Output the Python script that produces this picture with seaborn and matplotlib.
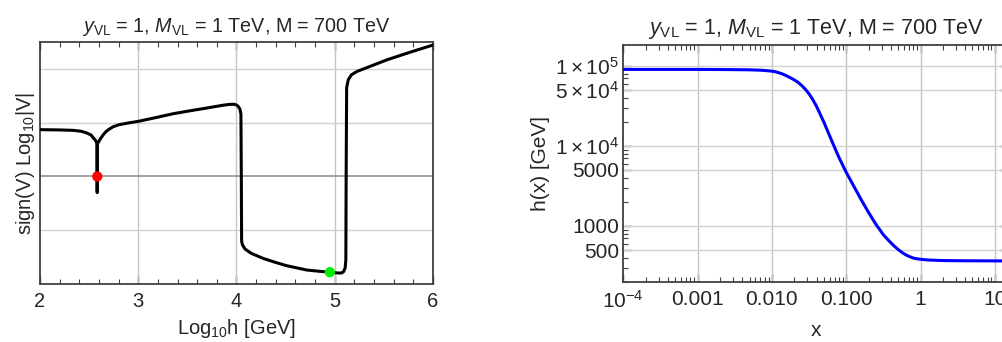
import numpy as np
import pandas as pd
import matplotlib
matplotlib.use("Agg")
import matplotlib.pyplot as plt
from matplotlib.ticker import FixedLocator, NullFormatter, LogLocator
import seaborn as sns

# -----------------------------
# DATA
# -----------------------------

# left panel: sign(V) Log10|V| versus Log10 h
log_h = [2.0, 2.2, 2.34, 2.42, 2.475, 2.52, 2.543, 2.565, 2.577, 2.581,
         2.582, 2.583, 2.586, 2.592, 2.600, 2.615, 2.630, 2.645, 2.67, 2.70,
         2.746, 2.80, 2.90, 3.0, 3.18, 3.357, 3.53, 3.697, 3.866, 3.93,
         3.968, 4.0, 4.018, 4.035, 4.045, 4.049, 4.052, 4.06, 4.087, 4.15,
         4.273, 4.4, 4.511, 4.715, 4.85, 4.95, 5.036, 5.07, 5.09, 5.106,
         5.113, 5.116, 5.121, 5.138, 5.17, 5.223, 5.35, 5.529, 5.75, 6.0]
sign_log_v = [8.70, 8.65, 8.57, 8.40, 8.09, 7.70, 7.17, 6.70, 6.24, 5.60,
              -3.0, 5.60, 6.10, 6.30, 6.55, 7.00, 7.40, 7.78, 8.30, 8.75,
              9.25, 9.60, 9.95, 10.24, 10.95, 11.67, 12.22, 12.72, 13.25, 13.40,
              13.42, 13.30, 13.02, 12.50, 11.60, 0.0, -12.0, -12.70, -13.50, -14.30,
              -15.25, -16.00, -16.60, -17.40, -17.65, -17.80, -17.96, -17.95, -17.70, -17.00,
              -15.50, 0.0, 16.50, 18.00, 18.90, 19.50, 20.40, 21.67, 23.00, 24.44]

# marked points
red_pt = (2.583, 0.0)
green_pt = (4.95, -17.8)

# right panel: h(x) [GeV] versus x  (read as log10 values)
log_x = [-4.0, -3.0, -2.6, -2.3, -2.15, -2.05, -2.0, -1.95, -1.9, -1.85,
         -1.8, -1.75, -1.7, -1.65, -1.6, -1.55, -1.5, -1.45, -1.4, -1.3,
         -1.2, -1.1, -1.0, -0.9, -0.8, -0.7, -0.6, -0.5, -0.4, -0.35,
         -0.3, -0.25, -0.2, -0.15, -0.1, -0.05, 0.0, 0.1, 0.3, 0.6, 1.2]
log_hx = [4.955, 4.955, 4.953, 4.950, 4.945, 4.938, 4.933, 4.925, 4.912, 4.895,
          4.874, 4.850, 4.825, 4.795, 4.755, 4.707, 4.650, 4.578, 4.495, 4.295,
          4.075, 3.860, 3.670, 3.500, 3.330, 3.170, 3.020, 2.890, 2.790, 2.745,
          2.705, 2.670, 2.640, 2.618, 2.600, 2.590, 2.584, 2.575, 2.568, 2.565, 2.563]

y_ticks = [500, 1000, 5000, 1e4, 5e4, 1e5]
y_tick_labels = ["500", "1000", "5000", r"$1\times10^{4}$", r"$5\times10^{4}$",
                 r"$1\times10^{5}$"]
x_ticks = [1e-4, 1e-3, 1e-2, 1e-1, 1, 10]
x_tick_labels = [r"$10^{-4}$", "0.001", "0.010", "0.100", "1", "10"]

title = r"$\mathit{y}_{\mathrm{VL}}$ = 1, $\mathit{M}_{\mathrm{VL}}$ = 1 TeV, M = 700 TeV"

# -----------------------------
# STYLE
# -----------------------------
sns.set_style("white")
plt.rcParams['font.family'] = ['Liberation Sans', 'DejaVu Sans']
plt.rcParams['mathtext.fontset'] = 'custom'
plt.rcParams['mathtext.rm'] = 'Liberation Sans'
plt.rcParams['mathtext.it'] = 'Liberation Sans:italic'
plt.rcParams['mathtext.bf'] = 'Liberation Sans:bold'

frame_col = '#404040'
grid_col = '#d2d2d2'

fig = plt.figure(figsize=(10.03, 3.42), dpi=100)
ax1 = fig.add_axes([40 / 1003, 58 / 342, 393 / 1003, 242 / 342])
ax2 = fig.add_axes([623.3 / 1003, 60 / 342, 384.6 / 1003, 237 / 342])

# -----------------------------
# LEFT PANEL
# -----------------------------
left = pd.DataFrame({'logh': log_h, 'v': sign_log_v})
sns.lineplot(data=left, x='logh', y='v', sort=False, estimator=None,
             color='black', linewidth=2.2, ax=ax1, zorder=3)
sns.scatterplot(x=[red_pt[0]], y=[red_pt[1]], color='#ff0000', s=55,
                edgecolor='none', ax=ax1, zorder=4)
sns.scatterplot(x=[green_pt[0]], y=[green_pt[1]], color='#00ee00', s=55,
                edgecolor='none', ax=ax1, zorder=4)

ax1.set_xlim(2, 6)
ax1.set_ylim(-20, 25)
ax1.set_xticks([2, 3, 4, 5, 6])
ax1.xaxis.set_minor_locator(FixedLocator(np.arange(2, 6.01, 0.2)))
ax1.set_yticks([-10, 0, 10, 20])
ax1.set_yticklabels([])
for xv in [3, 4, 5]:
    ax1.axvline(xv, color='#c4c4c4', lw=1.0, zorder=1)
for yv in [-10, 10, 20]:
    ax1.axhline(yv, color=grid_col, lw=1.0, zorder=1)
ax1.axhline(0, color='#8a8a8a', lw=1.1, zorder=1)
ax1.tick_params(axis='x', which='both', direction='in', top=True, bottom=True,
                color=frame_col, labelsize=14.5, pad=6)
ax1.tick_params(axis='x', which='major', length=6, width=1)
ax1.tick_params(axis='x', which='minor', length=3.5, width=0.8)
ax1.tick_params(axis='y', which='both', length=0)
ax1.set_xlabel(r"Log$_{10}$h [GeV]", fontsize=14.5, labelpad=4)
ax1.set_ylabel(r"sign(V) Log$_{10}$|V|", fontsize=14.5, labelpad=-1)
ax1.set_title(title, fontsize=14.2, pad=7)

# -----------------------------
# RIGHT PANEL
# -----------------------------
right = pd.DataFrame({'x': np.power(10.0, log_x), 'h': np.power(10.0, log_hx)})
sns.lineplot(data=right, x='x', y='h', sort=False, estimator=None,
             color='#0000ff', linewidth=2.2, ax=ax2, zorder=3)
ax2.set_xscale('log')
ax2.set_yscale('log')
ax2.set_xlim(1e-4, 10 ** 1.176)
ax2.set_ylim(10 ** 2.30, 10 ** 5.26)
ax2.set_xticks(x_ticks)
ax2.set_xticklabels(x_tick_labels)
ax2.xaxis.set_minor_locator(LogLocator(base=10, subs=np.arange(2, 10)))
ax2.xaxis.set_minor_formatter(NullFormatter())
ax2.set_yticks(y_ticks)
ax2.set_yticklabels(y_tick_labels)
ax2.yaxis.set_minor_locator(LogLocator(base=10, subs=np.arange(2, 10)))
ax2.yaxis.set_minor_formatter(NullFormatter())
for xv in x_ticks[1:]:
    ax2.axvline(xv, color='#c4c4c4', lw=1.0, zorder=1)
for yv in y_ticks:
    ax2.axhline(yv, color=grid_col, lw=1.0, zorder=1)
ax2.tick_params(which='both', direction='in', top=True, bottom=True,
                left=True, right=True, color=frame_col, labelsize=15)
ax2.tick_params(axis='y', which='both', pad=3)
ax2.tick_params(axis='x', which='both', pad=6)
ax2.tick_params(which='major', length=6, width=1)
ax2.tick_params(which='minor', length=3.5, width=0.8)
ax2.set_xlabel("x", fontsize=15, labelpad=6)
ax2.set_ylabel("h(x) [GeV]", fontsize=15, labelpad=4)
ax2.set_title(title, fontsize=15.5, pad=8)

for ax in (ax1, ax2):
    for sp in ax.spines.values():
        sp.set_color(frame_col)
        sp.set_linewidth(1.3)

plt.savefig("out.png", dpi=100)
